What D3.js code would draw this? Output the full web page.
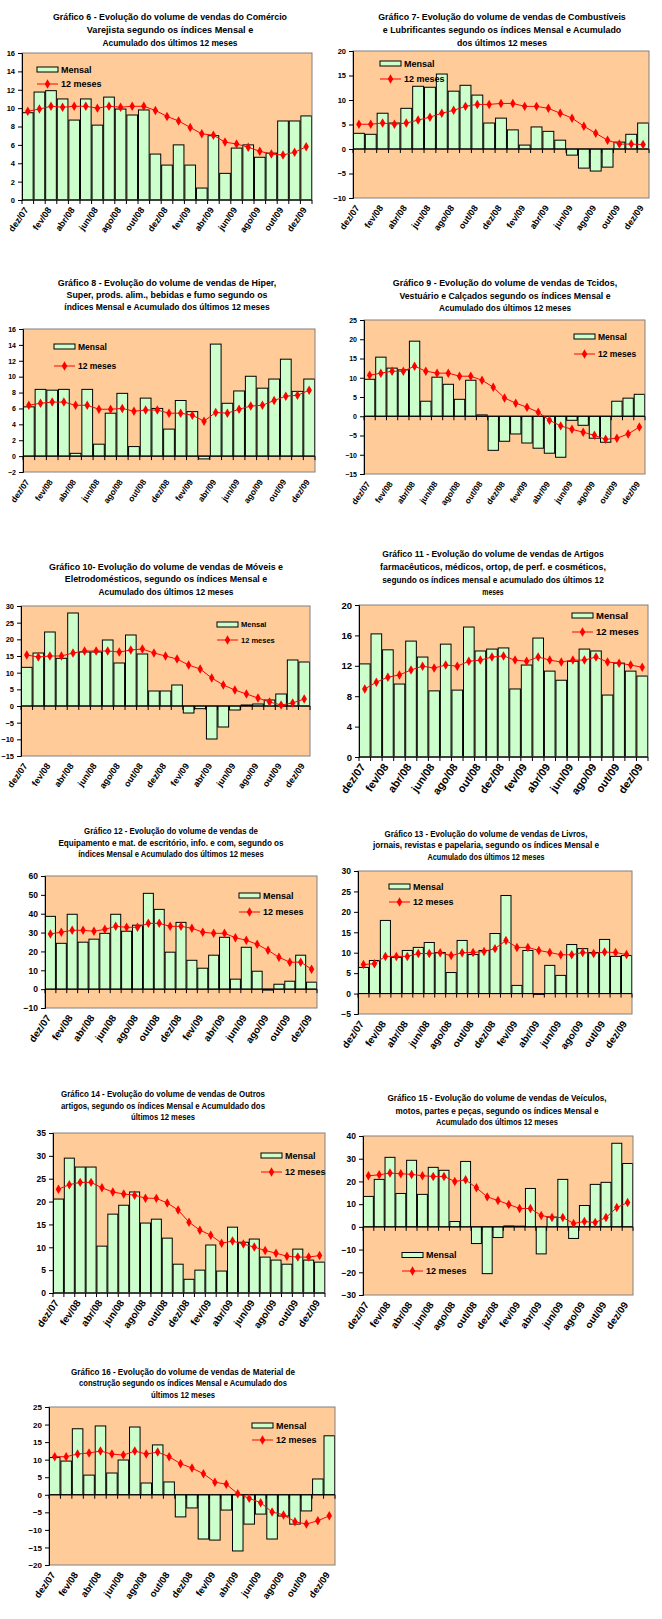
<!DOCTYPE html>
<html>
<head>
<meta charset="utf-8">
<script src="https://cdn.jsdelivr.net/npm/d3@7"></script>
<style>
  body { margin: 0; background: #fff; }
  text { font-family: "Liberation Sans", Arial, sans-serif; font-weight: bold; fill: #000; }
</style>
</head>
<body>
<svg id="chart" width="662" height="1619"></svg>
<script>
const months = ["dez/07","jan/08","fev/08","mar/08","abr/08","mai/08","jun/08","jul/08","ago/08","set/08","out/08","nov/08",
  "dez/08","jan/09","fev/09","mar/09","abr/09","mai/09","jun/09","jul/09","ago/09","set/09","out/09","nov/09","dez/09"];
const seriesNames = ["Mensal", "12 meses"];

// Gráfico 6 - Comércio varejista
const mensal6 = [9.5,11.75,11.9,11.0,8.7,11.0,8.15,11.2,9.9,9.25,9.8,5.0,3.8,6.0,3.8,1.3,7.0,2.9,5.65,6.0,4.65,5.1,8.6,8.6,9.15];
const meses6  = [9.65,9.9,10.2,10.1,10.2,10.2,10.0,10.2,10.1,10.2,10.2,9.75,9.1,8.6,7.9,7.2,7.05,6.3,6.1,5.75,5.3,5.0,4.9,5.2,5.8];
// Gráfico 7 - Combustíveis
const mensal7 = [3.2,3.0,7.3,5.3,8.3,12.8,12.6,15.3,11.8,13.0,11.0,5.3,6.3,3.9,0.8,4.5,3.6,1.8,-1.25,-3.9,-4.5,-3.7,1.4,3.0,5.3];
const meses7  = [5.05,5.05,5.3,5.05,5.3,5.9,6.5,7.3,7.9,8.7,9.1,9.1,9.3,9.3,8.7,8.7,8.3,7.3,6.3,4.65,3.2,1.8,1.0,1.0,0.9];
// Gráfico 8 - Hiper, super
const mensal8 = [6.2,8.4,8.3,8.4,0.35,8.4,1.5,5.4,7.9,1.2,7.3,6.0,3.4,7.0,5.6,-0.35,14.1,6.65,8.2,10.05,8.55,9.7,12.2,8.15,9.7];
const meses8  = [6.4,6.65,6.8,6.8,6.4,6.4,5.9,5.9,6.0,5.65,5.8,5.8,5.4,5.4,5.15,4.4,5.5,5.4,5.9,6.3,6.4,7.0,7.55,7.65,8.3];
// Gráfico 9 - Tecidos, vestuário
const mensal9 = [9.6,15.35,12.5,12.05,19.5,3.9,10.15,8.3,4.4,9.35,0.35,-8.85,-6.5,-4.6,-6.95,-8.3,-9.6,-10.65,-1.05,-2.35,-5.7,-6.75,3.9,4.7,5.7];
const meses9  = [10.65,11.2,11.7,11.7,13.0,11.7,11.2,11.2,10.4,10.4,9.35,7.55,4.75,3.4,2.35,1.05,-1.05,-2.5,-3.4,-4.15,-4.95,-6.0,-5.7,-4.6,-2.8];
// Gráfico 10 - Móveis e eletrodomésticos
const mensal10 = [11.6,15.9,22.2,14.3,27.9,16.2,16.2,19.8,12.9,21.3,15.6,4.5,4.5,6.3,-2.1,-0.8,-9.9,-6.3,-1.2,0.3,0.6,1.8,3.6,13.8,13.2];
const meses10  = [15.3,14.7,15.0,15.0,15.9,16.5,16.5,16.5,16.2,16.8,17.1,15.9,15.0,14.1,12.3,11.1,8.4,6.3,4.8,3.6,2.4,1.2,0.3,0.9,2.1];
// Gráfico 11 - Farmacêuticos
const mensal11 = [12.25,16.2,14.1,9.6,15.25,13.15,8.7,14.85,8.8,17.1,13.95,14.2,14.35,8.95,12.1,15.65,11.3,10.1,12.6,14.2,13.95,8.15,12.35,11.3,10.65];
const meses11  = [8.95,9.85,10.5,10.8,11.45,11.95,11.7,12.1,11.95,12.6,12.75,13.15,13.3,12.75,12.6,13.15,12.75,12.5,12.75,12.75,13.15,12.5,12.35,12.1,11.8];
// Gráfico 12 - Equipamento de escritório
const mensal12 = [38.6,24.3,39.7,24.9,26.5,29.6,39.7,30.7,33.9,50.8,42.3,19.6,35.4,15.3,11.1,18.0,27.5,5.3,22.2,9.5,-0.5,2.6,4.2,18.0,3.7];
const meses12  = [29.3,30.2,31.2,31.2,30.7,31.7,33.3,32.8,32.8,34.9,34.9,33.3,33.3,32.3,30.2,29.6,29.6,27.3,25.9,23.8,20.6,16.9,14.3,14.3,10.6];
// Gráfico 13 - Livros, jornais
const mensal13 = [6.4,8.1,17.9,8.85,10.55,11.3,12.5,10.05,5.15,13.0,9.55,10.55,14.7,24.0,2.0,10.55,-0.2,6.9,4.45,12.0,11.0,10.05,13.25,9.1,9.3];
const meses13  = [7.1,7.3,9.1,9.1,9.1,9.8,9.8,10.0,9.3,10.0,10.05,10.3,11.0,13.0,11.3,11.3,10.55,10.05,9.5,9.5,10.05,9.8,10.15,10.05,9.55];
// Gráfico 14 - Outros artigos
const mensal14 = [20.55,29.5,27.55,27.55,10.25,17.25,19.2,22.1,15.3,16.15,12.0,6.3,3.0,5.0,10.5,4.8,14.4,11.1,11.8,7.85,7.2,6.3,9.6,7.2,6.75];
const meses14  = [22.7,23.7,24.2,24.2,23.0,22.1,21.65,21.4,20.75,20.7,19.7,18.15,15.5,13.75,12.65,10.9,11.35,10.7,10.05,9.3,8.7,8.05,7.85,7.85,8.2];
// Gráfico 15 - Veículos
const mensal15 = [13.4,20.9,30.6,14.7,29.3,14.3,26.2,24.9,2.35,28.8,-7.35,-20.6,-4.7,0.4,0.3,16.9,-11.9,4.3,20.9,-5.1,9.4,18.7,19.6,36.8,27.9];
const meses15  = [22.5,22.9,23.7,23.4,23.1,22.5,22.2,22.2,20.0,20.7,17.2,13.2,11.6,9.85,8.1,8.1,5.0,4.1,4.1,1.5,2.35,1.9,4.1,8.5,10.7];
// Gráfico 16 - Material de construção
const mensal16 = [10.6,9.6,18.8,5.6,19.6,6.2,9.9,19.3,3.35,14.2,3.65,-6.3,-3.75,-12.6,-12.9,-4.35,-16.0,-8.35,-5.5,-12.6,-6.05,-8.35,-4.6,4.5,16.8];
const meses16  = [10.85,10.85,11.6,11.9,12.45,11.6,11.3,12.45,11.6,12.15,10.85,8.85,7.6,6.0,3.6,3.0,0.3,-1.0,-2.25,-4.9,-5.75,-7.65,-8.35,-7.4,-6.0];

const titles6  = ["Gráfico 6 - Evolução do volume de vendas do Comércio", "Varejista segundo os índices Mensal e", "Acumulado dos últimos 12 meses"];
const titles7  = ["Gráfico 7- Evolução do volume de vendas de Combustíveis", "e Lubrificantes segundo os índices Mensal e Acumulado", "dos últimos 12 meses"];
const titles8  = ["Gráfico 8 - Evolução do volume de vendas de Hiper,", "Super, prods. alim., bebidas e fumo segundo os", "índices Mensal e Acumulado dos últimos 12 meses"];
const titles9  = ["Gráfico 9 - Evolução do volume de vendas de Tcidos,", "Vestuário e Calçados segundo os índices Mensal e", "Acumulado dos últimos 12 meses"];
const titles10 = ["Gráfico 10- Evolução do volume de vendas de Móveis e", "Eletrodomésticos, segundo os índices Mensal e", "Acumulado dos últimos 12 meses"];
const titles11 = ["Gráfico 11 - Evolução do volume de vendas de Artigos", "farmacêuticos, médicos, ortop, de perf. e cosméticos,", "segundo os índices mensal e acumulado dos últimos 12", "meses"];
const titles12 = ["Gráfico 12 - Evolução do volume de vendas de", "Equipamento e mat. de escritório, info. e com, segundo os", "índices Mensal e Acumulado dos últimos 12 meses"];
const titles13 = ["Gráfico 13 - Evolução do volume de vendas de Livros,", "jornais, revistas e papelaria, segundo os índices Mensal e", "Acumulado dos últimos 12 meses"];
const titles14 = ["Gráfico 14 - Evolução do volume de vendas de Outros", "artigos, segundo os índices Mensal e Acumuldado dos", "últimos 12 meses"];
const titles15 = ["Gráfico 15 - Evolução do volume de vendas de Veículos,", "motos, partes e peças, segundo os índices Mensal e", "Acumulado dos últimos 12 meses"];
const titles16 = ["Gráfico 16 - Evolução do volume de vendas de Material de", "construção segundo os índices Mensal e Acumulado dos", "últimos 12 meses"];

const panels = [
  {title: titles6,  mensal: mensal6,  meses: meses6,  dom: [0,16],   step: 2,  x0: 22,  x1: 312, y0: 53,   y1: 200,  tx: 170, ty: [17,30,43],   cw: 4.5,  tfs: 9.5, lx: 37,  ly: 69.5,   ly2: 84,   lfs: 9,   afs: 7.5},
  {title: titles7,  mensal: mensal7,  meses: meses7,  dom: [-10,20], step: 5,  x0: 353, x1: 649, y0: 51,   y1: 198,  tx: 502, ty: [17,30,43],   cw: 4.5,  tfs: 9.5, lx: 380, ly: 63.5,   ly2: 79,   lfs: 9,   afs: 7.5},
  {title: titles8,  mensal: mensal8,  meses: meses8,  dom: [-2,16],  step: 2,  x0: 23,  x1: 315, y0: 329,  y1: 472,  tx: 167, ty: [283,295,307], cw: 4.37, tfs: 9.5, lx: 54,  ly: 346.5,  ly2: 366,  lfs: 8.5, afs: 7},
  {title: titles9,  mensal: mensal9,  meses: meses9,  dom: [-15,25], step: 5,  x0: 364, x1: 645, y0: 320,  y1: 474,  tx: 505, ty: [283,296,308], cw: 4.4,  tfs: 9.5, lx: 574, ly: 336.5,  ly2: 354,  lfs: 8.5, afs: 7},
  {title: titles10, mensal: mensal10, meses: meses10, dom: [-15,30], step: 5,  x0: 21,  x1: 310, y0: 606,  y1: 756,  tx: 166, ty: [567,579,592], cw: 4.5,  tfs: 9.5, lx: 217, ly: 624.5,  ly2: 640,  lfs: 7.5, afs: 7.5},
  {title: titles11, mensal: mensal11, meses: meses11, dom: [0,20],   step: 4,  x0: 359, x1: 648, y0: 605,  y1: 757,  tx: 493, ty: [554,567,580,592], cw: 4.26, tfs: 9.5, lx: 572, ly: 615.5, ly2: 632, lfs: 9.5, afs: 9.5},
  {title: titles12, mensal: mensal12, meses: meses12, dom: [-10,60], step: 10, x0: 45,  x1: 317, y0: 876,  y1: 1008, tx: 171, ty: [831,843,854], cw: 3.95, tfs: 9,   lx: 239, ly: 895.5,  ly2: 912,  lfs: 9,   afs: 8.5},
  {title: titles13, mensal: mensal13, meses: meses13, dom: [-5,30],  step: 5,  x0: 358, x1: 632, y0: 871,  y1: 1014, tx: 486, ty: [834,845,857], cw: 3.9,  tfs: 9,   lx: 389, ly: 886.5,  ly2: 902,  lfs: 9,   afs: 8.5},
  {title: titles14, mensal: mensal14, meses: meses14, dom: [0,35],   step: 5,  x0: 53,  x1: 325, y0: 1133, y1: 1293, tx: 163, ty: [1094,1106,1117], cw: 4.0, tfs: 9, lx: 261, ly: 1155.5, ly2: 1172, lfs: 9,   afs: 8.5},
  {title: titles15, mensal: mensal15, meses: meses15, dom: [-30,40], step: 10, x0: 363, x1: 633, y0: 1136, y1: 1295, tx: 497, ty: [1098,1111,1122], cw: 4.06, tfs: 9, lx: 402, ly: 1255, ly2: 1271,   lfs: 9,   afs: 8.5},
  {title: titles16, mensal: mensal16, meses: meses16, dom: [-20,25], step: 5,  x0: 49,  x1: 335, y0: 1407, y1: 1565, tx: 183, ty: [1372,1383,1395], cw: 4.0, tfs: 9, lx: 252, ly: 1425.5, ly2: 1440, lfs: 9,   afs: 8}
];

const svg = d3.select("#chart");

function drawPanel(p) {
  const g = svg.append("g");

  const x = d3.scaleBand()
    .domain(months)
    .range([p.x0, p.x1])
    .paddingInner(0.08)
    .paddingOuter(0.04);
  const y = d3.scaleLinear().domain(p.dom).range([p.y1, p.y0]);

  // title
  g.selectAll(".title")
    .data(p.title)
    .join("text")
      .attr("class", "title")
      .attr("x", p.tx)
      .attr("y", (d, i) => p.ty[i] + 3.4)
      .attr("text-anchor", "middle")
      .style("font-size", p.tfs + "px")
      .attr("textLength", d => d.length * p.cw)
      .attr("lengthAdjust", "spacingAndGlyphs")
      .text(d => d);

  // plot area
  g.append("rect")
    .attr("x", p.x0).attr("y", p.y0)
    .attr("width", p.x1 - p.x0).attr("height", p.y1 - p.y0)
    .attr("fill", "#FFCC99");

  // bars
  g.selectAll(".bar")
    .data(p.mensal)
    .join("rect")
      .attr("class", "bar")
      .attr("x", (d, i) => x(months[i]))
      .attr("y", d => y(Math.max(0, d)))
      .attr("width", x.bandwidth())
      .attr("height", d => Math.abs(y(d) - y(0)))
      .attr("fill", "#CCFFCC")
      .attr("stroke", "#000")
      .attr("stroke-width", 1);

  g.append("rect")
    .attr("x", p.x0).attr("y", p.y0)
    .attr("width", p.x1 - p.x0).attr("height", p.y1 - p.y0)
    .attr("fill", "none")
    .attr("stroke", "#808080");

  // x axis at zero, ticks at category boundaries
  const y0 = y(0);
  g.append("line")
    .attr("x1", p.x0).attr("x2", p.x1)
    .attr("y1", y0).attr("y2", y0)
    .attr("stroke", "#000");
  g.selectAll(".xtick")
    .data(d3.range(months.length + 1))
    .join("line")
      .attr("x1", i => p.x0 + i * x.step())
      .attr("x2", i => p.x0 + i * x.step())
      .attr("y1", y0).attr("y2", y0 + 4)
      .attr("stroke", "#000");

  // x labels, every other month
  g.selectAll(".xlab")
    .data(months.filter((m, i) => i % 2 === 0))
    .join("text")
      .attr("class", "xlab")
      .attr("text-anchor", "end")
      .style("font-size", (p.afs + 1.5) + "px")
      .attr("transform", d => `translate(${x(d) + x.bandwidth() / 2 + 1},${p.y1 + 10}) rotate(-55)`)
      .text(d => d);

  // y axis
  const yAxis = g.append("g")
    .attr("transform", `translate(${p.x0},0)`)
    .call(d3.axisLeft(y)
      .tickValues(d3.range(p.dom[0], p.dom[1] + p.step / 2, p.step))
      .tickSize(4)
      .tickPadding(3)
      .tickFormat(d3.format("d")));
  yAxis.attr("font-family", null).attr("font-size", null);
  yAxis.selectAll("text").style("font-size", p.afs + "px");

  // 12 meses line
  const cx = i => x(months[i]) + x.bandwidth() / 2;
  g.append("path")
    .datum(p.meses)
    .attr("fill", "none")
    .attr("stroke", "#FF0000")
    .attr("stroke-width", 1)
    .attr("d", d3.line().x((d, i) => cx(i)).y(d => y(d)));
  g.selectAll(".mk")
    .data(p.meses)
    .join("path")
      .attr("class", "mk")
      .attr("transform", (d, i) => `translate(${cx(i)},${y(d)})`)
      .attr("d", d3.symbol(d3.symbolDiamond, 26))
      .attr("fill", "#FF0000");

  // legend
  g.append("rect")
    .attr("x", p.lx).attr("y", p.ly - 2.5)
    .attr("width", 21).attr("height", 5)
    .attr("fill", "#CCFFCC").attr("stroke", "#000");
  g.append("text")
    .attr("x", p.lx + 24).attr("y", p.ly + p.lfs * 0.36)
    .style("font-size", p.lfs + "px")
    .text(seriesNames[0]);
  g.append("line")
    .attr("x1", p.lx).attr("x2", p.lx + 21)
    .attr("y1", p.ly2).attr("y2", p.ly2)
    .attr("stroke", "#FF0000");
  g.append("path")
    .attr("transform", `translate(${p.lx + 10.5},${p.ly2})`)
    .attr("d", d3.symbol(d3.symbolDiamond, 26))
    .attr("fill", "#FF0000");
  g.append("text")
    .attr("x", p.lx + 24).attr("y", p.ly2 + p.lfs * 0.36)
    .style("font-size", p.lfs + "px")
    .text(seriesNames[1]);
}

panels.forEach(drawPanel);
</script>
</body>
</html>
